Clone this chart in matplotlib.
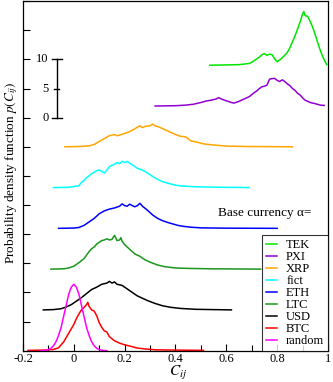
import numpy as np
import matplotlib.pyplot as plt

# density curves, stacked with vertical offsets
random_x = [-0.13, -0.12, -0.11, -0.10, -0.09, -0.08, -0.07, -0.06, -0.05, -0.04, -0.03, -0.02, -0.01, 0.0,
            0.01, 0.02, 0.03, 0.04, 0.05, 0.06, 0.07, 0.08, 0.09, 0.10, 0.11, 0.12, 0.13]
random_y = [0.0, 0.03, 0.08, 0.19, 0.41, 0.84, 1.55, 2.62, 4.0, 5.9, 7.8, 9.7, 10.9, 11.4,
            10.9, 9.7, 7.8, 5.9, 4.0, 2.62, 1.55, 0.84, 0.41, 0.19, 0.08, 0.03, 0.0]

btc_x = [-0.18, -0.12, -0.08, -0.06, -0.04, -0.02, 0.0, 0.01, 0.02, 0.03, 0.04, 0.05, 0.055, 0.06, 0.07,
         0.08, 0.09, 0.10, 0.11, 0.12, 0.13, 0.14, 0.16, 0.18, 0.20, 0.22, 0.25, 0.28, 0.32, 0.40, 0.51]
btc_y = [0.05, 0.1, 0.2, 0.5, 1.5, 3.0, 4.5, 5.5, 6.3, 7.0, 7.4, 7.9, 8.3, 7.6, 7.0,
         6.8, 6.0, 4.8, 4.0, 3.4, 3.2, 2.4, 1.7, 1.3, 1.0, 0.8, 0.45, 0.3, 0.15, 0.1, 0.05]

usd_x = [-0.12, -0.08, -0.05, -0.03, -0.01, 0.01, 0.03, 0.05, 0.07, 0.09, 0.11, 0.13, 0.14, 0.15, 0.16,
         0.17, 0.19, 0.21, 0.23, 0.25, 0.27, 0.29, 0.32, 0.35, 0.38, 0.42, 0.48, 0.55, 0.62]
usd_y = [0.0, 0.05, 0.2, 0.5, 0.9, 1.5, 2.1, 2.8, 3.5, 3.9, 4.4, 4.6, 4.9, 4.6, 4.8,
         4.4, 4.2, 3.6, 3.0, 2.4, 2.0, 1.6, 1.1, 0.7, 0.45, 0.25, 0.1, 0.05, 0.0]

ltc_x = [-0.09, -0.04, -0.02, 0.0, 0.02, 0.04, 0.06, 0.07, 0.08, 0.09, 0.10, 0.11, 0.12, 0.13, 0.14, 0.15,
         0.16, 0.17, 0.18, 0.185, 0.19, 0.20, 0.22, 0.24, 0.26, 0.28, 0.30, 0.33, 0.36, 0.40, 0.45, 0.55, 0.735]
ltc_y = [0.0, 0.05, 0.2, 0.5, 1.1, 1.8, 3.0, 3.5, 3.8, 4.3, 4.6, 4.9, 5.0, 5.2, 5.0, 5.1,
         5.8, 4.9, 5.0, 5.4, 4.8, 4.2, 3.4, 2.6, 2.2, 1.6, 1.2, 0.7, 0.4, 0.2, 0.12, 0.05, 0.0]

eth_x = [-0.06, 0.0, 0.02, 0.04, 0.06, 0.08, 0.10, 0.12, 0.14, 0.16, 0.18, 0.19, 0.20, 0.21, 0.22, 0.23,
         0.24, 0.25, 0.26, 0.27, 0.29, 0.31, 0.33, 0.35, 0.37, 0.39, 0.41, 0.43, 0.46, 0.50, 0.60, 0.80]
eth_y = [0.0, 0.05, 0.15, 0.5, 1.1, 1.7, 2.5, 3.0, 3.3, 3.5, 3.8, 4.2, 3.9, 3.8, 4.15, 3.9,
         3.7, 3.9, 4.3, 3.8, 3.1, 2.3, 1.7, 1.3, 1.0, 0.75, 0.5, 0.35, 0.2, 0.08, 0.03, 0.0]

fict_x = [-0.08, -0.02, 0.02, 0.03, 0.04, 0.05, 0.06, 0.07, 0.08, 0.09, 0.10, 0.11, 0.12, 0.13, 0.14, 0.15,
          0.16, 0.17, 0.18, 0.19, 0.20, 0.21, 0.22, 0.23, 0.24, 0.25, 0.27, 0.29, 0.31, 0.33, 0.35, 0.37,
          0.40, 0.43, 0.47, 0.52, 0.58, 0.69]
fict_y = [0.0, 0.05, 0.3, 0.9, 1.2, 1.7, 2.0, 2.4, 2.6, 2.9, 3.0, 2.8, 2.5, 3.0, 3.6, 3.8,
          4.0, 4.3, 4.1, 4.5, 4.3, 4.5, 4.2, 3.9, 3.6, 3.3, 3.0, 2.5, 1.9, 1.4, 1.0, 0.75,
          0.4, 0.25, 0.15, 0.1, 0.05, 0.0]

xrp_x = [-0.035, 0.02, 0.06, 0.08, 0.10, 0.12, 0.14, 0.16, 0.17, 0.18, 0.20, 0.22, 0.24, 0.26, 0.27, 0.28,
         0.30, 0.31, 0.32, 0.34, 0.36, 0.38, 0.40, 0.42, 0.44, 0.45, 0.46, 0.48, 0.51, 0.55, 0.60, 0.68, 0.86]
xrp_y = [0.0, 0.05, 0.15, 0.4, 0.9, 1.4, 1.9, 2.1, 1.9, 2.0, 2.3, 2.6, 3.1, 3.6, 3.3, 3.5,
         3.6, 3.9, 3.6, 3.3, 2.9, 2.5, 2.1, 1.8, 1.7, 1.4, 1.0, 0.85, 0.5, 0.3, 0.12, 0.05, 0.0]

pxi_x = [0.32, 0.40, 0.44, 0.47, 0.50, 0.52, 0.54, 0.56, 0.57, 0.58, 0.60, 0.62, 0.63, 0.65, 0.67, 0.69,
         0.71, 0.72, 0.73, 0.74, 0.75, 0.76, 0.77, 0.78, 0.79, 0.80, 0.81, 0.82, 0.83, 0.84, 0.85, 0.86,
         0.87, 0.88, 0.89, 0.90, 0.91, 0.93, 0.95, 0.97, 0.985]
pxi_y = [0.0, 0.05, 0.15, 0.3, 0.6, 0.85, 1.0, 1.2, 1.45, 1.2, 0.9, 0.6, 0.5, 0.8, 1.2, 1.6,
         2.3, 2.6, 3.0, 3.3, 3.4, 3.6, 4.6, 4.7, 4.75, 4.4, 4.2, 4.5, 4.2, 3.8, 3.5, 3.0,
         2.7, 2.2, 1.9, 1.4, 1.0, 0.6, 0.4, 0.15, 0.1]

tek_x = [0.535, 0.60, 0.65, 0.69, 0.70, 0.71, 0.72, 0.73, 0.74, 0.75, 0.76, 0.77, 0.78, 0.79, 0.80, 0.81,
         0.82, 0.83, 0.84, 0.85, 0.86, 0.87, 0.88, 0.89, 0.90, 0.905, 0.91, 0.92, 0.93, 0.94, 0.95, 0.96,
         0.97, 0.98, 0.99, 0.995]
tek_y = [0.0, 0.05, 0.1, 0.3, 0.5, 0.8, 1.1, 1.4, 1.8, 2.0, 1.7, 1.9, 1.8, 1.1, 0.6, 0.9,
         1.3, 1.7, 2.2, 3.0, 4.0, 5.0, 6.2, 7.4, 8.8, 9.2, 8.5, 8.4, 7.5, 6.5, 5.2, 3.8,
         2.5, 1.4, 0.5, 0.1]

labels = ['TEK', 'PXI', 'XRP', 'fict', 'ETH', 'LTC', 'USD', 'BTC', 'random']
offsets = [49, 42, 35, 28, 21, 14, 7, 0, 0]
colors = ['#00e600', '#9400d3', '#ffa500', '#00ffff', '#0000ff', '#1a961a', '#000000', '#ff0000', '#ff00ff']
curves = [(tek_x, tek_y), (pxi_x, pxi_y), (xrp_x, xrp_y), (fict_x, fict_y), (eth_x, eth_y),
          (ltc_x, ltc_y), (usd_x, usd_y), (btc_x, btc_y), (random_x, random_y)]

plt.rcParams['font.family'] = ['Liberation Serif', 'DejaVu Serif']
plt.rcParams['mathtext.fontset'] = 'stix'

fig = plt.figure(figsize=(3.33, 3.82), dpi=100)
ax = fig.add_axes([0.069, 0.082, 0.916, 0.915])

for (x, y), off, c, lab in zip(curves, offsets, colors, labels):
    ax.plot(x, np.array(y) + off, color=c, lw=1.1, label=lab)

ax.set_xlim(-0.2, 1.0)
ax.set_ylim(0, 60)
ax.set_xticks([-0.2, 0, 0.2, 0.4, 0.6, 0.8, 1.0])
ax.set_xticklabels(['-0.2', '0', '0.2', '0.4', '0.6', '0.8', '1'])
ax.set_xticks(np.arange(-0.1, 1.0, 0.2), minor=True)
ax.set_yticks(np.arange(0, 61, 5))
ax.set_yticklabels([])
ax.tick_params(direction='in', length=5, width=0.8, labelsize=9, pad=1.5)
ax.tick_params(which='minor', direction='in', length=4, width=0.8)
for s in ax.spines.values():
    s.set_linewidth(0.9)

# scale bar for the density
ax.plot([-0.067, -0.067], [40, 50], color='k', lw=1)
for yv, half in [(40, 0.02), (45, 0.01), (50, 0.02)]:
    ax.plot([-0.067 - half, -0.067 + half], [yv, yv], color='k', lw=1)
    ax.text(-0.098, yv, str(yv - 40), ha='right', va='center', fontsize=9)

ax.text(0.567, 23.7, 'Base currency α=', ha='left', va='center', fontsize=9.5)

ax.set_xlabel('$C_{ij}$', fontsize=11, va='center')
ax.xaxis.set_label_coords(0.51, -0.063)
ax.set_ylabel('Probability density function $p(C_{ij})$', fontsize=9.5, va='center')
ax.yaxis.set_label_coords(-0.036, 0.51)

leg = ax.legend(loc='lower right', fontsize=9, frameon=True, fancybox=False, borderaxespad=0,
                handlelength=0.9, handletextpad=0.7, labelspacing=0.0, borderpad=0.3)
leg.get_frame().set_edgecolor('k')
leg.get_frame().set_linewidth(0.8)

fig.savefig('out.png', dpi=100)
